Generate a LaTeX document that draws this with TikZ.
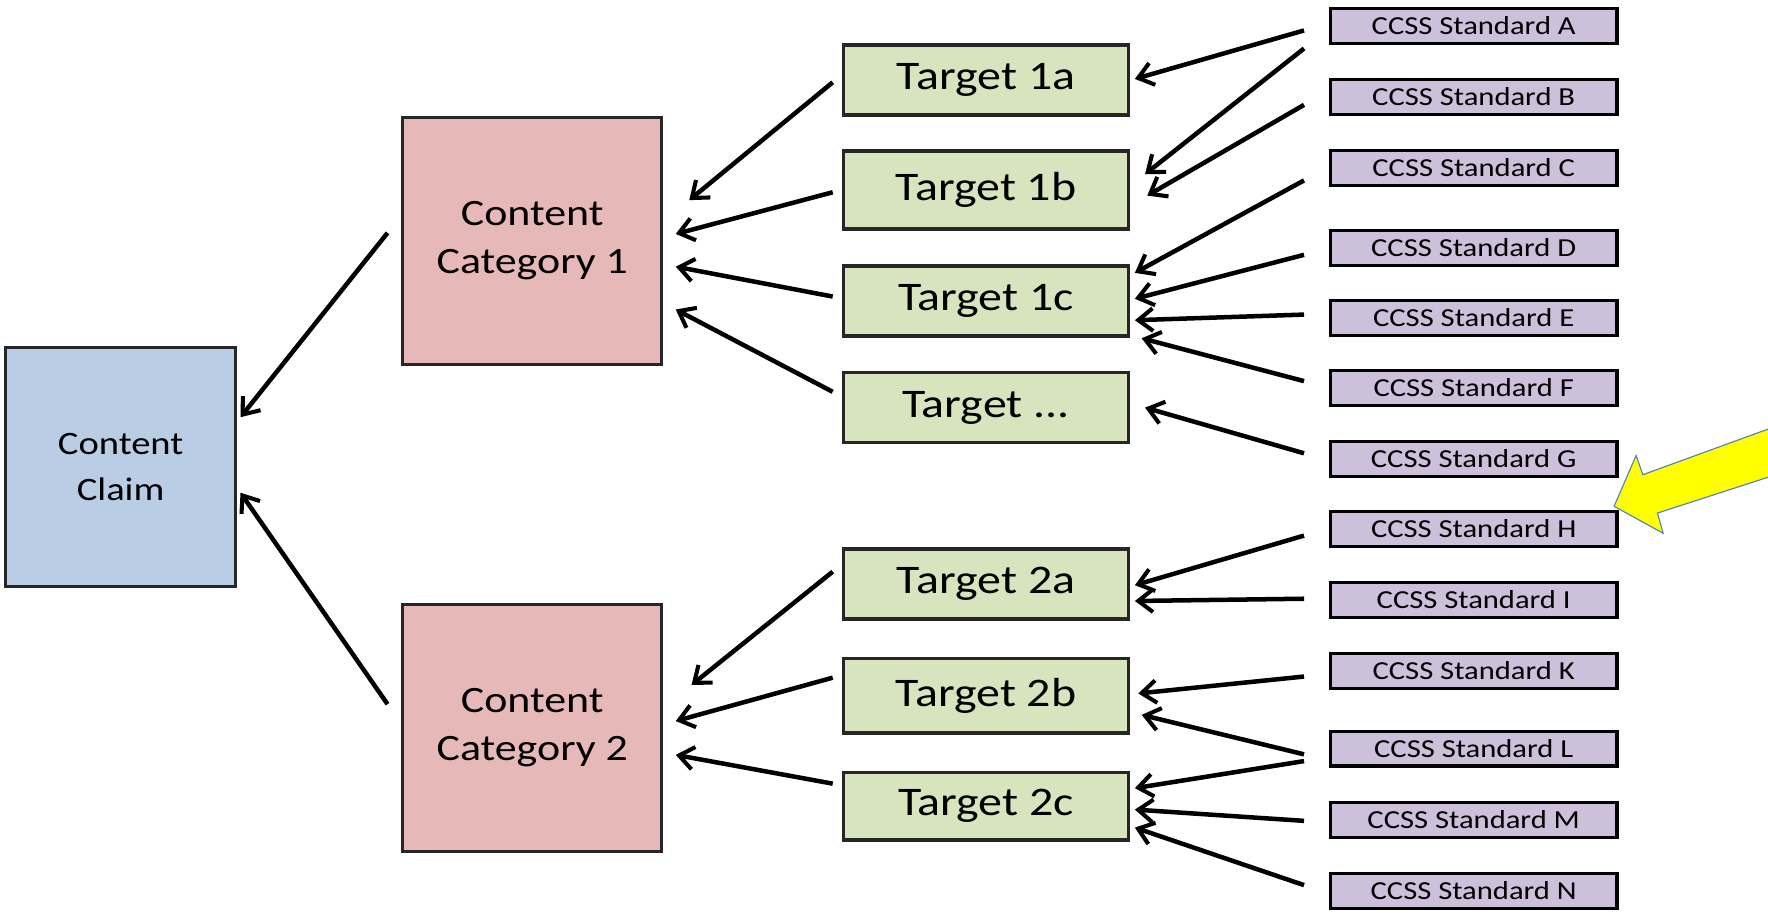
\documentclass[tikz,border=0pt]{standalone}
\usepackage{fontspec}
\setmainfont{Carlito}[FakeStretch=1.18]
\usetikzlibrary{arrows.meta,calc}
\definecolor{claimfill}{HTML}{B9CDE5}
\definecolor{catfill}{HTML}{E6B9B8}
\definecolor{tgtfill}{HTML}{D7E4BD}
\definecolor{stdfill}{HTML}{CCC0DA}
\definecolor{callout}{HTML}{FFFF00}
\definecolor{calloutedge}{HTML}{4F81BD}
\begin{document}
\begin{tikzpicture}[x=1pt,y=-1pt,
  box/.style={draw=black!85,line width=2.6pt,inner sep=0pt,align=center,text=black},
  claimbox/.style={box,fill=claimfill,minimum width=204pt,minimum height=212pt,
     font=\fontsize{29}{41}\selectfont},
  catbox/.style={box,fill=catfill,minimum width=230pt,minimum height=219pt,
     font=\fontsize{33}{43}\selectfont},
  tgtbox/.style={box,line width=3pt,fill=tgtfill,minimum width=253pt,minimum height=62pt,
     font=\fontsize{36}{40}\selectfont},
  stdbox/.style={box,draw=black,line width=3pt,fill=stdfill,minimum width=254pt,minimum height=31pt,
     font=\fontsize{23}{26}\selectfont},
  arr/.style={-{Straight Barb[length=13pt,width=20pt,line width=3.6pt]},line width=4pt,black}]
\useasboundingbox (0,0) rectangle (1568,811);
% left column
\node[claimbox] (claim) at (107,414) {Content\\Claim};
\node[catbox] (cat1) at (472,213.5) {Content\\Category 1};
\node[catbox] (cat2) at (472,645.5) {Content\\Category 2};
% targets
\node[tgtbox] (t1a) at (874.5,71) {Target 1a};
\node[tgtbox,minimum height=69pt] (t1b) at (874.5,168.5) {Target 1b};
\node[tgtbox] (t1c) at (874.5,267) {Target 1c};
\node[tgtbox] (tdots) at (874.5,361.5) {Target ...};
\node[tgtbox] (t2a) at (874.5,518) {Target 2a};
\node[tgtbox,minimum height=66pt] (t2b) at (874.5,617) {Target 2b};
\node[tgtbox,minimum height=60pt] (t2c) at (874.5,715) {Target 2c};
% standards
\node[stdbox] (sA) at (1307,23) {CCSS Standard A};
\node[stdbox] (sB) at (1307,86) {CCSS Standard B};
\node[stdbox] (sC) at (1307,149) {CCSS Standard C};
\node[stdbox] (sD) at (1307,220) {CCSS Standard D};
\node[stdbox] (sE) at (1307,282) {CCSS Standard E};
\node[stdbox] (sF) at (1307,344) {CCSS Standard F};
\node[stdbox] (sG) at (1307,407) {CCSS Standard G};
\node[stdbox] (sH) at (1307,469) {CCSS Standard H};
\node[stdbox] (sI) at (1307,532) {CCSS Standard I};
\node[stdbox] (sK) at (1307,595) {CCSS Standard K};
\node[stdbox] (sL) at (1307,664) {CCSS Standard L};
\node[stdbox] (sM) at (1307,727) {CCSS Standard M};
\node[stdbox] (sN) at (1307,790) {CCSS Standard N};
% standards -> targets
\draw[arr] ($(sA.west)+(-22,4)$) -- ($(t1a.east)+(4,-1)$);
\draw[arr] ($(sA.west)+(-22,20)$) -- ($(t1b.east)+(13,-14)$);
\draw[arr] ($(sB.west)+(-22,7)$) -- ($(t1b.east)+(15,5)$);
\draw[arr] ($(sC.west)+(-22,11)$) -- ($(t1c.east)+(4,-25)$);
\draw[arr] ($(sD.west)+(-22,6)$) -- ($(t1c.east)+(4,-2)$);
\draw[arr] ($(sE.west)+(-22,-3)$) -- ($(t1c.east)+(4,17)$);
\draw[arr] ($(sF.west)+(-22,-6)$) -- ($(t1c.east)+(10,33)$);
\draw[arr] ($(sG.west)+(-22,-5)$) -- ($(tdots.east)+(13,0)$);
\draw[arr] ($(sH.west)+(-22,6)$) -- ($(t2a.east)+(4,1)$);
\draw[arr] ($(sI.west)+(-22,-1)$) -- ($(t2a.east)+(4,15)$);
\draw[arr] ($(sK.west)+(-22,5)$) -- ($(t2b.east)+(7,-2)$);
\draw[arr] ($(sL.west)+(-22,5)$) -- ($(t2b.east)+(10,17)$);
\draw[arr] ($(sL.west)+(-22,11)$) -- ($(t2c.east)+(4,-16)$);
\draw[arr] ($(sM.west)+(-22,1)$) -- ($(t2c.east)+(4,3)$);
\draw[arr] ($(sN.west)+(-22,-5)$) -- ($(t2c.east)+(4,19)$);
% targets -> categories
\draw[arr] ($(t1a.west)+(-8,2)$) -- ($(cat1.east)+(23,-36)$);
\draw[arr] ($(t1b.west)+(-8,2)$) -- ($(cat1.east)+(11,-6)$);
\draw[arr] ($(t1c.west)+(-8,-4)$) -- ($(cat1.east)+(11,23)$);
\draw[arr] ($(tdots.west)+(-8,-14)$) -- ($(cat1.east)+(11,61)$);
\draw[arr] ($(t2a.west)+(-8,-11)$) -- ($(cat2.east)+(25,-38)$);
\draw[arr] ($(t2b.west)+(-8,-16)$) -- ($(cat2.east)+(11,-6)$);
\draw[arr] ($(t2c.west)+(-8,-20)$) -- ($(cat2.east)+(11,24)$);
% categories -> claim
\draw[arr] ($(cat1.west)+(-12,-7)$) -- ($(claim.east)+(3,-44)$);
\draw[arr] ($(cat2.west)+(-12,-21)$) -- ($(claim.east)+(3,23)$);
% yellow callout arrow
\coordinate (tip) at ($(sH.north east)+(-4,-3)$);
\draw[fill=callout,draw=calloutedge,line width=1pt,line join=miter]
  (tip) -- (1451,404) -- (1457,421) -- (1575,378) -- (1575,421) -- (1470,455) -- (1475,473) -- cycle;
\end{tikzpicture}
\end{document}
